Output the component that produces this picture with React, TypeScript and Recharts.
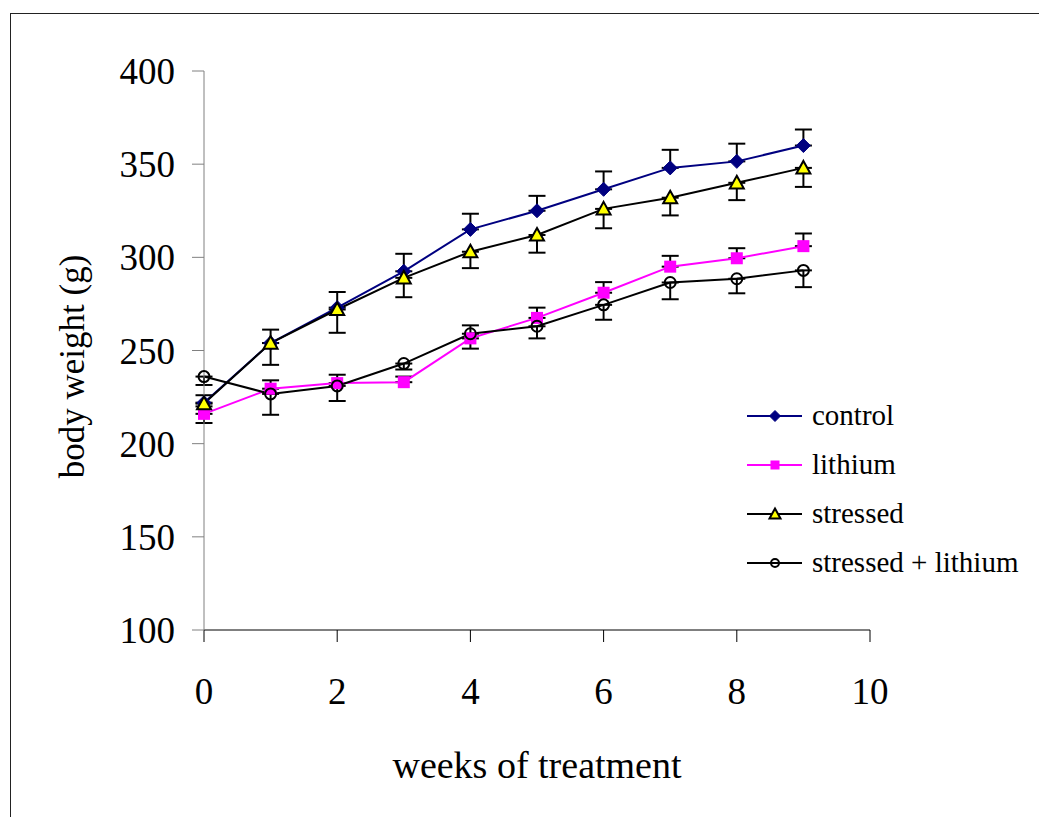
import { LineChart, Line, XAxis, YAxis, ErrorBar, Legend } from 'recharts';

// body weight over weeks of treatment, four groups; error bars are one-sided
// (control & lithium upward, stressed & stressed+lithium downward)
const weeks = [0, 1, 2, 3, 4, 5, 6, 7, 8, 9];
const control = [222, 254, 273, 292.5, 315, 325, 336.5, 348, 351.5, 360];
const controlErr = [4, 7.2, 8.4, 9.4, 8.4, 8, 9.6, 9.7, 9.5, 8.6];
const lithium = [216, 229.5, 232.5, 233, 256.5, 267.5, 281, 295, 299.5, 306];
const lithiumErr = [4, 4.5, 4.5, 3, 7, 5.5, 5.7, 5.8, 5.4, 6.8];
const stressed = [221.5, 254, 272, 289, 303, 312, 326, 332, 340, 348];
const stressedErr = [10.4, 11.7, 12.5, 10.4, 8.8, 9.5, 10.4, 9.5, 9.3, 10.2];
const stressedLithium = [236, 226.7, 231, 243, 259, 263, 274.5, 286.5, 288.5, 293];
const stressedLithiumErr = [4.5, 11.2, 8.1, 3.2, 8, 6.5, 8, 9, 7.8, 9];

const xTicks = [0, 2, 4, 6, 8, 10];
const yTicks = [100, 150, 200, 250, 300, 350, 400];

const SERIF = '"Liberation Serif", "Times New Roman", serif';
const NAVY = '#000080';
const MAGENTA = '#FF00FF';
const YELLOW = '#FFFF00';

// ErrorBar takes [below, above]
const rows = weeks.map((w, i) => ({
  week: w,
  control: control[i],
  controlErr: [0, controlErr[i]],
  lithium: lithium[i],
  lithiumErr: [0, lithiumErr[i]],
  stressed: stressed[i],
  stressedErr: [stressedErr[i], 0],
  stressedLithium: stressedLithium[i],
  stressedLithiumErr: [stressedLithiumErr[i], 0],
}));

type Marker = 'diamond' | 'square' | 'triangle' | 'circle';

function markerShape(kind: Marker, cx: number, cy: number, s: number, key?: string) {
  if (kind === 'diamond') {
    return (
      <path key={key} d={`M${cx},${cy - s} L${cx + s},${cy} L${cx},${cy + s} L${cx - s},${cy} Z`} fill={NAVY} stroke={NAVY} />
    );
  }
  if (kind === 'square') {
    return <rect key={key} x={cx - s} y={cy - s} width={s * 2} height={s * 2} fill={MAGENTA} />;
  }
  if (kind === 'triangle') {
    return (
      <path
        key={key}
        d={`M${cx},${cy - s} L${cx + s},${cy + s * 0.8} L${cx - s},${cy + s * 0.8} Z`}
        fill={YELLOW}
        stroke="#000"
        strokeWidth={2}
      />
    );
  }
  return <circle key={key} cx={cx} cy={cy} r={s} fill="none" stroke="#000" strokeWidth={2} />;
}

const dotFor = (kind: Marker, s: number) => (p: any) =>
  markerShape(kind, p.cx, p.cy, s, `${kind}-${p.index}`);

const legendItems: { name: string; stroke: string; marker: Marker; s: number }[] = [
  { name: 'control', stroke: NAVY, marker: 'diamond', s: 5.5 },
  { name: 'lithium', stroke: MAGENTA, marker: 'square', s: 4.5 },
  { name: 'stressed', stroke: '#000', marker: 'triangle', s: 5.5 },
  { name: 'stressed + lithium', stroke: '#000', marker: 'circle', s: 4 },
];

function LegendBox() {
  return (
    <div style={{ fontFamily: SERIF, fontSize: 29, color: '#000' }}>
      {legendItems.map((it) => (
        <div key={it.name} style={{ display: 'flex', alignItems: 'center', height: 49 }}>
          <svg width={58} height={20} style={{ display: 'block' }}>
            <line x1={1} y1={10} x2={56} y2={10} stroke={it.stroke} strokeWidth={2} />
            {markerShape(it.marker, 29, 10, it.s)}
          </svg>
          <span style={{ marginLeft: 8, whiteSpace: 'nowrap' }}>{it.name}</span>
        </div>
      ))}
    </div>
  );
}

// hide the cap that sits on the data point for one-sided bars
const css = `
.eb-up .recharts-errorBar > line:nth-child(3) { display: none; }
.eb-down .recharts-errorBar > line:nth-child(1) { display: none; }
`;

export default function App() {
  return (
    <div
      style={{
        position: 'absolute',
        left: 0,
        top: 0,
        width: 1039,
        height: 817,
        overflow: 'hidden',
        background: '#fff',
      }}
    >
      <style>{css}</style>
      <div
        style={{
          position: 'absolute',
          left: 10,
          top: 13,
          width: 1100,
          height: 900,
          border: '1px solid #222',
        }}
      />
      <div style={{ position: 'absolute', left: 0, top: 0 }}>
        <LineChart
          width={1039}
          height={817}
          data={rows}
          margin={{ top: 71, right: 169, left: 0, bottom: 37 }}
        >
          <XAxis
            type="number"
            dataKey="week"
            domain={[0, 10]}
            ticks={xTicks}
            height={150}
            tickSize={12}
            tickMargin={36}
            stroke="#000"
            tick={{ fill: '#000', fontSize: 37, fontFamily: SERIF }}
            label={{
              content: (p: any) => (
                <text
                  x={p.viewBox.x + p.viewBox.width / 2}
                  y={p.viewBox.y + 148}
                  textAnchor="middle"
                  fontFamily={SERIF}
                  fontSize={38}
                  fill="#000"
                >
                  weeks of treatment
                </text>
              ),
            }}
          />
          <YAxis
            type="number"
            domain={[100, 400]}
            ticks={yTicks}
            width={204}
            tickSize={12}
            tickMargin={17}
            stroke="#808080"
            tick={{ fill: '#000', fontSize: 37, fontFamily: SERIF }}
            label={{
              content: (p: any) => {
                const cx = p.viewBox.x + 72;
                const cy = p.viewBox.y + p.viewBox.height / 2 + 16;
                return (
                  <text
                    x={cx}
                    y={cy}
                    transform={`rotate(-90 ${cx} ${cy})`}
                    textAnchor="middle"
                    dominantBaseline="central"
                    fontFamily={SERIF}
                    fontSize={35}
                    fill="#000"
                  >
                    body weight (g)
                  </text>
                );
              },
            }}
          />
          <Legend
            layout="horizontal"
            align="center"
            verticalAlign="middle"
            content={<LegendBox />}
            wrapperStyle={{ left: 746, top: 391, width: 290 }}
          />
          <Line
            className="eb-up"
            dataKey="control"
            name="control"
            stroke={NAVY}
            strokeWidth={2}
            dot={dotFor('diamond', 7)}
            isAnimationActive={false}
          >
            <ErrorBar dataKey="controlErr" direction="y" width={8.5} stroke="#000" strokeWidth={2} isAnimationActive={false} />
          </Line>
          <Line
            className="eb-up"
            dataKey="lithium"
            name="lithium"
            stroke={MAGENTA}
            strokeWidth={2}
            dot={dotFor('square', 6)}
            isAnimationActive={false}
          >
            <ErrorBar dataKey="lithiumErr" direction="y" width={8.5} stroke="#000" strokeWidth={2} isAnimationActive={false} />
          </Line>
          <Line
            className="eb-down"
            dataKey="stressed"
            name="stressed"
            stroke="#000"
            strokeWidth={2}
            dot={dotFor('triangle', 7)}
            isAnimationActive={false}
          >
            <ErrorBar dataKey="stressedErr" direction="y" width={8.5} stroke="#000" strokeWidth={2} isAnimationActive={false} />
          </Line>
          <Line
            className="eb-down"
            dataKey="stressedLithium"
            name="stressed + lithium"
            stroke="#000"
            strokeWidth={2}
            dot={dotFor('circle', 5.5)}
            isAnimationActive={false}
          >
            <ErrorBar dataKey="stressedLithiumErr" direction="y" width={8.5} stroke="#000" strokeWidth={2} isAnimationActive={false} />
          </Line>
        </LineChart>
      </div>
    </div>
  );
}
